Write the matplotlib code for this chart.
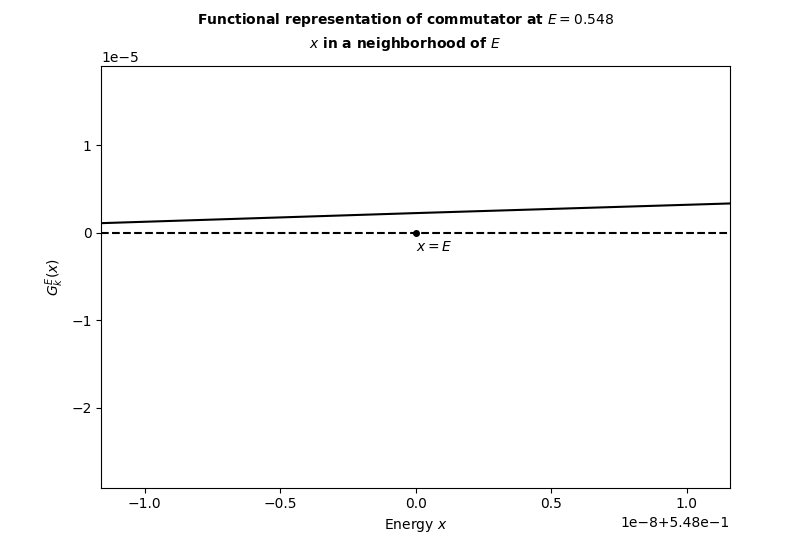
import numpy as np
import matplotlib.pyplot as plt

E = 0.548
x_vals = [E - 1.16e-8, E, E + 1.16e-8]
g_vals = [1.1e-6, 2.25e-6, 3.35e-6]
zero_x = [E - 1.16e-8, E + 1.16e-8]
zero_y = [0.0, 0.0]

fig, ax = plt.subplots(figsize=(8.11, 5.48), dpi=100)
fig.subplots_adjust(left=0.125, right=0.9, top=0.88, bottom=0.11)

ax.plot(x_vals, g_vals, color="black", lw=1.5)
ax.plot(zero_x, zero_y, color="black", lw=1.5, ls="--")
ax.plot([E], [0.0], "o", color="black", ms=4)
ax.annotate("$x = E$", xy=(E, 0.0), xytext=(0, -15.5), textcoords="offset points",
            ha="left", va="bottom")

ax.set_xlim(E - 1.16e-8, E + 1.16e-8)
ax.set_ylim(-2.914e-5, 1.909e-5)
ax.set_xlabel("Energy $x$")
ax.set_ylabel("$G^E_k(x)$")
fig.suptitle("Functional representation of commutator at $E = 0.548$\n$x$ in a neighborhood of $E$",
             fontsize=10, fontweight="bold", y=0.98, linespacing=1.5)

fig.savefig("out.png")
